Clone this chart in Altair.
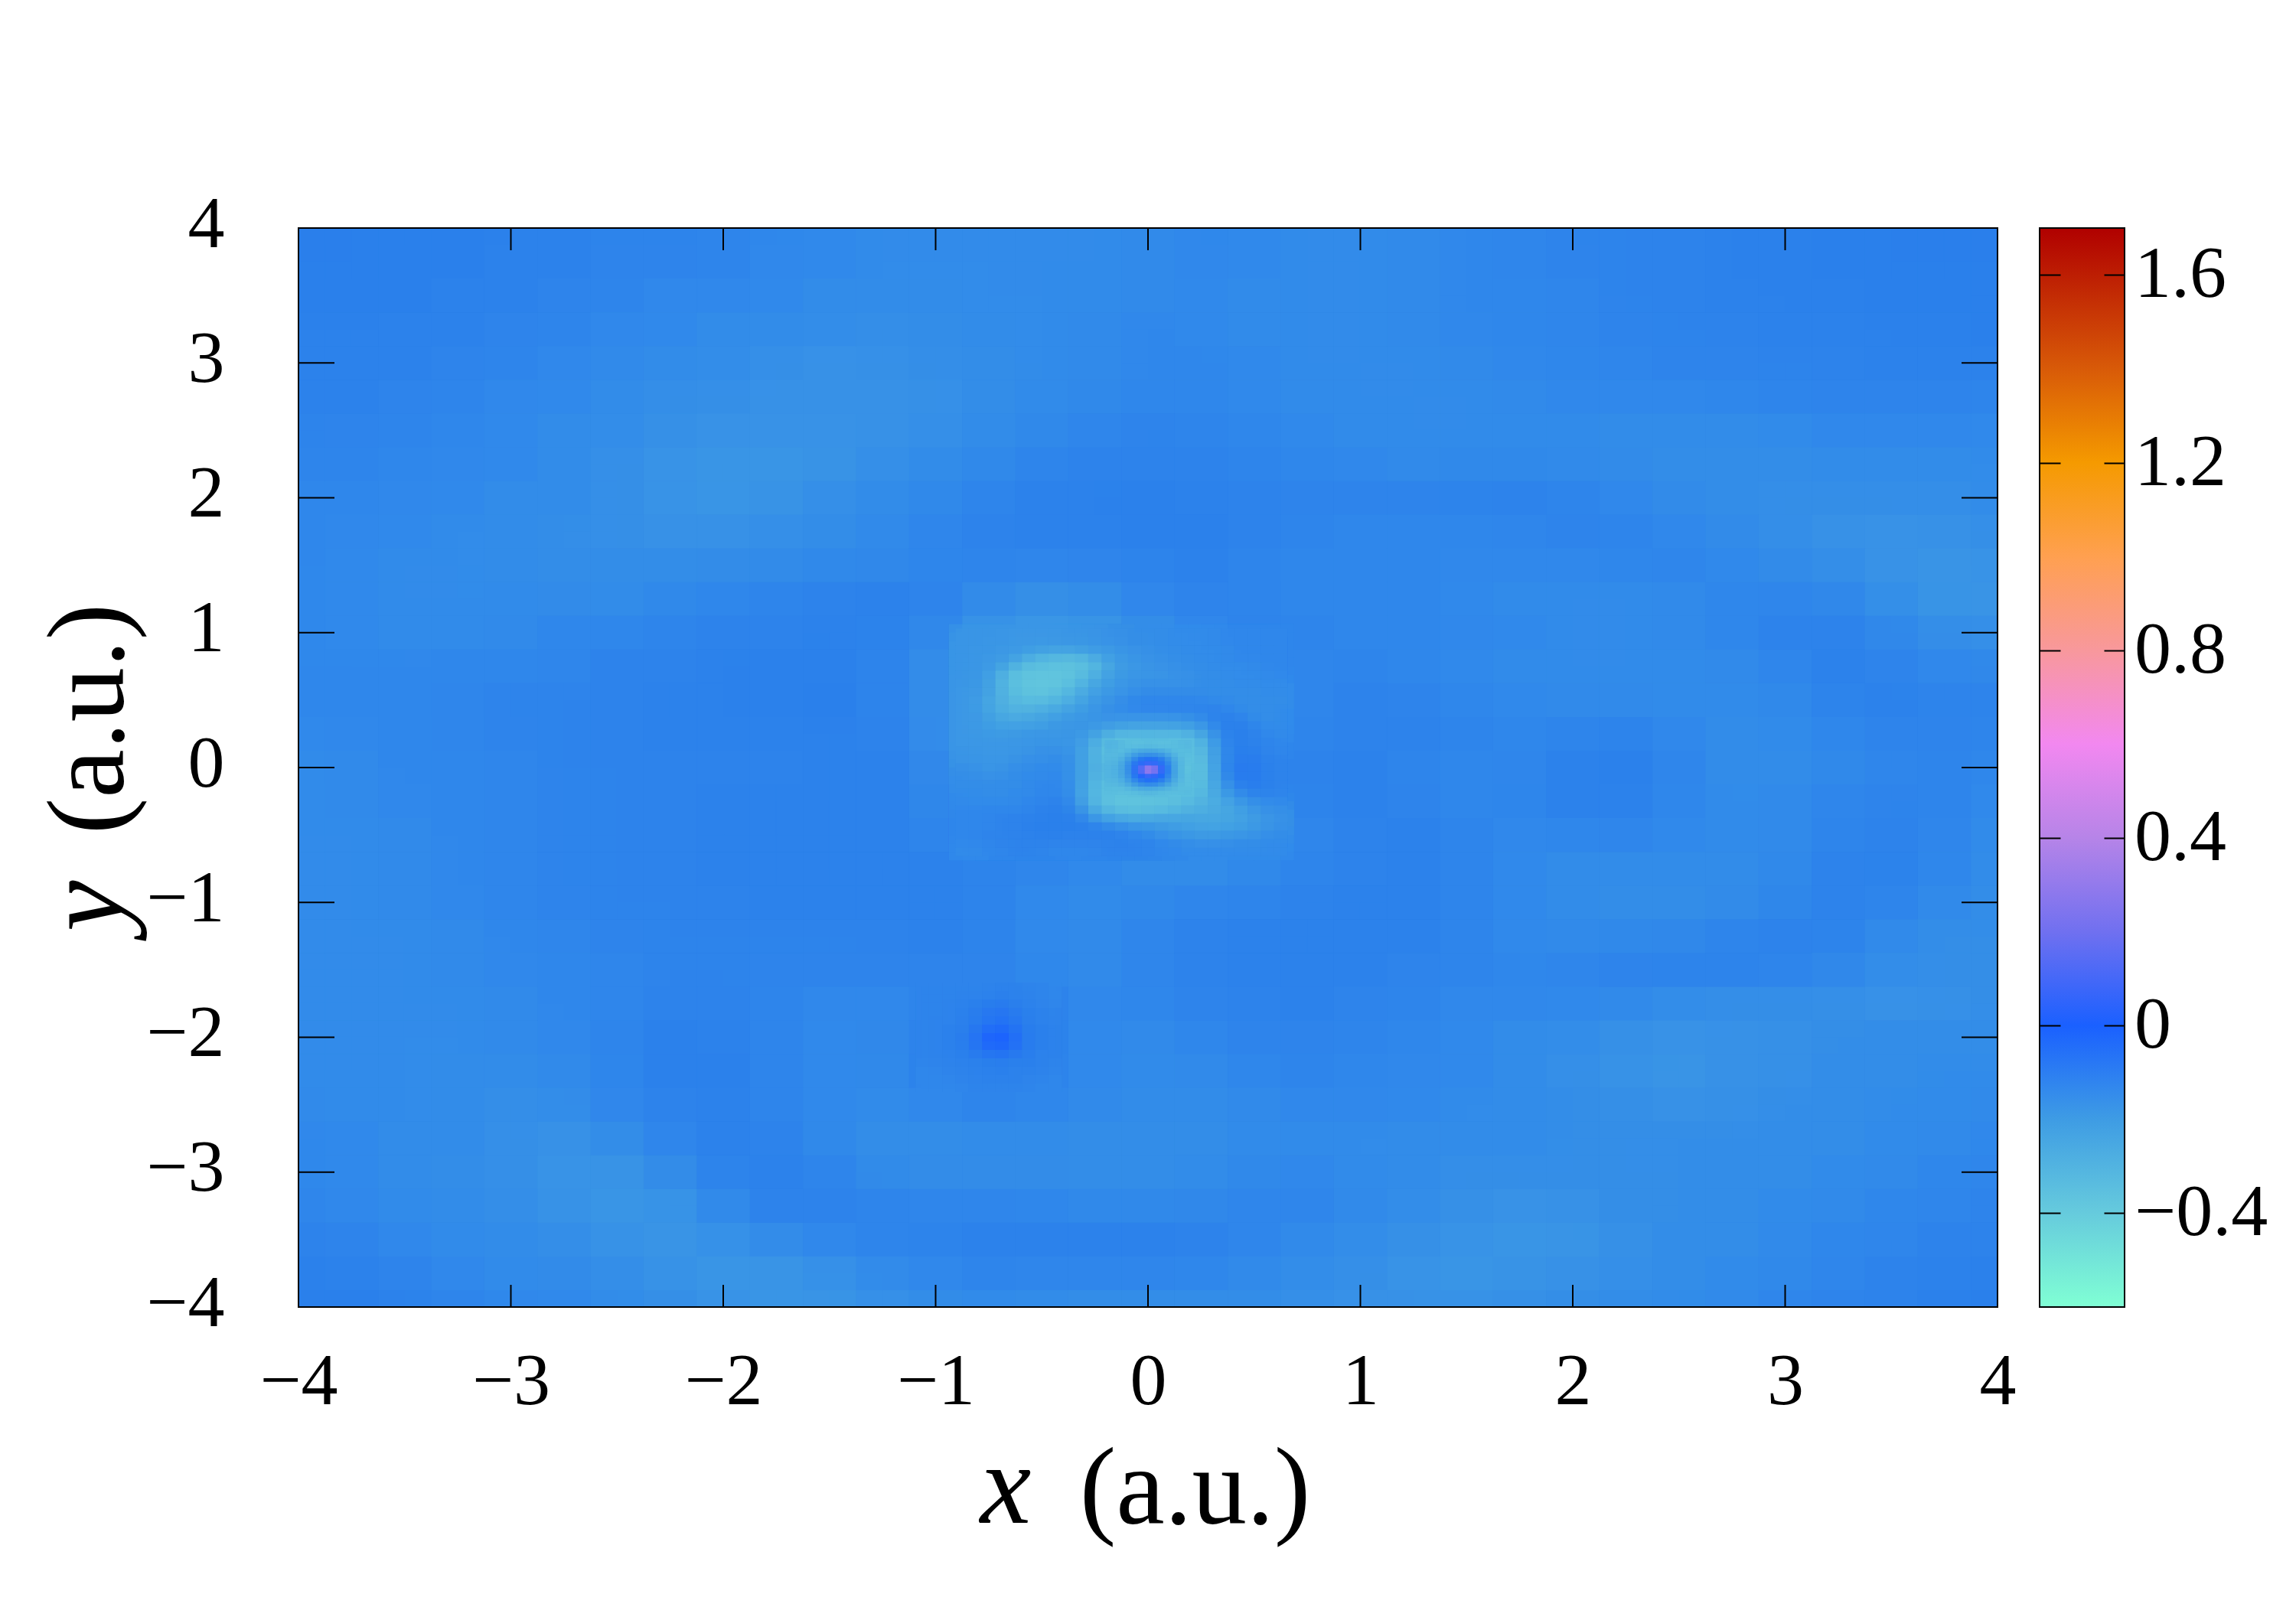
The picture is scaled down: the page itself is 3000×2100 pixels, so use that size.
import altair as alt
import pandas as pd

# Grid values in hundredths, written as depth below zero (12 means -0.12).
COARSE_X0 = -4.0
COARSE_Y0 = 4.0
COARSE_STEP = 0.25
COARSE = [
[10,10,10,11,11,12,12,12,13,13,14,14,14,14,14,14,13,13,14,14,14,13,13,12,12,12,11,11,10,10,10,10],
[10,10,11,11,12,12,13,13,13,14,14,14,14,14,14,14,13,14,14,14,14,13,13,13,12,12,11,11,11,10,10,10],
[11,11,11,12,12,13,13,14,14,14,15,15,14,14,14,13,13,14,14,14,14,13,13,13,12,12,12,11,11,11,11,10],
[11,11,12,12,13,13,14,14,15,16,16,15,15,14,14,13,13,13,14,14,14,14,13,13,13,12,12,12,12,11,11,11],
[11,12,12,13,13,14,15,15,16,16,16,16,15,14,14,13,13,13,14,14,14,14,14,13,13,13,13,12,12,12,12,12],
[12,12,13,13,14,14,15,16,16,16,16,16,15,14,13,12,12,13,13,14,14,14,14,14,14,14,14,14,13,13,13,13],
[12,13,13,13,14,15,16,17,17,17,16,15,14,13,12,12,12,12,13,13,14,14,14,14,14,15,15,15,14,14,14,14],
[13,13,13,14,14,15,16,17,17,16,15,14,13,11,11,11,11,12,12,12,12,12,11,12,13,14,15,15,15,15,15,14],
[13,13,14,14,15,15,16,16,16,15,14,13,12,11,11,11,10,11,12,13,13,13,13,12,12,13,14,15,16,16,16,15],
[13,14,14,14,15,15,15,15,15,14,14,13,12,12,12,12,11,12,13,13,13,13,13,13,13,12,13,14,15,16,17,16],
[13,14,14,14,14,15,14,13,13,12,11,11,13,15,15,13,12,12,13,13,13,13,14,14,14,14,13,13,13,15,17,17],
[13,14,14,14,13,13,13,12,12,11,11,12,15,17,17,15,13,12,12,13,13,13,13,14,14,14,13,12,11,13,15,16],
[13,13,13,13,13,12,12,11,11,11,11,13,17,18,18,17,15,13,13,12,13,13,14,14,14,14,14,13,11,12,13,14],
[13,13,13,12,12,12,11,11,11,10,11,13,17,18,18,17,15,13,13,12,12,13,13,14,14,14,14,14,12,11,12,12],
[13,13,13,12,12,12,11,11,11,11,11,13,17,18,18,17,14,13,13,12,11,12,13,13,12,13,14,14,13,12,12,12],
[14,13,13,13,12,12,12,12,12,11,11,12,16,17,17,16,14,13,12,11,12,13,13,12,10,12,14,15,14,13,12,13],
[14,13,13,13,12,12,12,11,11,11,11,12,15,15,15,15,14,13,12,11,12,13,13,11,10,12,14,14,13,12,12,13],
[14,14,13,13,12,12,12,11,11,11,11,12,14,13,13,14,15,14,13,12,11,12,13,13,12,13,14,14,13,12,12,14],
[14,14,13,13,12,12,12,11,11,11,11,11,12,12,13,14,15,14,13,12,11,12,13,14,14,14,14,14,12,11,12,14],
[14,14,13,13,12,12,12,12,11,11,11,11,11,13,14,14,13,13,12,11,11,12,13,14,15,15,15,14,12,11,13,15],
[14,14,14,13,13,12,12,12,12,12,12,11,11,13,14,13,12,11,11,11,11,12,13,14,14,14,13,12,11,13,15,15],
[14,14,14,13,13,13,12,12,12,12,12,12,12,13,14,13,12,11,11,11,12,12,13,13,12,11,11,11,12,14,15,15],
[14,14,14,14,13,13,12,12,12,13,13,13,11,11,13,13,12,12,11,12,12,13,13,13,13,14,15,15,15,16,16,15],
[14,14,14,14,13,13,11,11,12,13,14,12,11,10,13,14,13,12,12,12,13,13,14,14,15,16,16,16,15,15,15,15],
[14,14,14,14,14,13,11,10,12,13,14,11,11,11,13,14,14,13,12,13,13,13,14,15,16,17,16,16,15,15,14,14],
[14,14,14,15,15,13,12,11,12,13,14,13,12,12,13,14,14,14,13,13,13,14,14,15,15,16,16,15,15,14,14,14],
[13,14,14,15,16,15,13,11,11,13,15,15,14,14,15,15,15,14,14,14,14,14,14,15,15,15,15,15,15,14,14,13],
[13,14,15,15,16,17,15,12,11,12,14,15,15,15,15,15,15,14,13,14,14,15,15,15,15,15,15,15,14,14,13,13],
[13,14,14,15,16,17,17,14,11,11,12,13,13,13,14,14,14,13,12,13,14,15,16,16,15,15,15,14,14,13,13,12],
[12,13,14,14,15,16,17,16,14,13,12,12,11,11,11,11,11,12,13,14,15,16,17,17,16,15,15,14,13,13,12,12],
[11,12,13,14,14,15,16,17,17,16,14,13,12,12,12,12,12,13,14,15,16,17,17,16,16,15,14,14,13,12,12,11],
[10,11,12,13,13,14,15,16,17,17,16,15,14,14,15,15,15,15,15,16,16,16,16,15,15,14,14,13,12,12,11,10],
]

CORE_X0 = -0.875
CORE_Y0 = 1.0
CORE_STEP = 0.0625
CORE = [
[17,17,17,18,18,18,18,17,17,17,16,16,15,15,15,14,14,14,14,13,13,13,13,13],
[17,17,18,18,19,20,21,21,20,19,18,17,16,16,15,15,14,14,14,14,13,13,13,13],
[17,18,18,20,24,28,30,31,31,27,22,19,17,16,16,15,15,14,14,14,13,13,13,13],
[17,18,20,26,32,34,35,36,35,33,27,21,18,17,16,16,15,15,14,14,14,14,13,13],
[17,19,25,33,36,37,37,37,36,31,25,20,18,17,17,16,16,15,15,14,14,14,14,13],
[17,20,27,34,37,38,38,37,33,27,22,19,17,16,16,16,16,15,15,15,14,14,14,14],
[18,20,27,33,36,38,37,34,29,24,20,18,16,15,15,15,15,15,15,15,15,15,14,14],
[18,22,27,32,34,35,33,30,26,21,18,16,14,13,13,13,13,13,14,14,15,15,15,15],
[18,22,27,30,31,30,28,25,22,19,16,15,13,12,12,12,12,12,12,13,14,15,15,14],
[18,21,25,27,27,25,23,21,19,17,16,16,16,16,16,16,15,14,12,11,12,14,15,14],
[18,20,22,23,23,22,20,18,17,17,18,20,21,21,21,21,20,18,14,11,10,12,14,14],
[18,19,20,20,19,18,18,17,17,20,25,29,30,30,30,30,29,25,18,12,10,11,13,14],
[18,18,18,18,18,17,17,17,18,24,31,35,35,34,34,35,35,32,23,13,10,11,12,13],
[17,18,18,18,17,16,16,16,19,27,33,37,36,33,32,34,35,34,26,14,10,10,12,13],
[17,17,18,17,16,16,15,15,19,27,33,35,30,22,22,28,35,36,27,14,10,9,11,12],
[16,17,17,16,15,14,14,14,19,27,31,31,20,8,8,20,33,37,28,14,9,8,10,12],
[15,16,16,15,14,14,13,14,19,27,32,30,18,6,6,18,32,37,28,15,9,8,10,12],
[15,15,15,15,14,13,13,13,19,28,34,34,27,18,18,26,34,36,28,17,11,9,10,12],
[14,15,15,14,14,13,13,13,19,29,34,36,36,33,33,35,35,34,28,20,14,11,11,12],
[14,14,14,14,13,13,12,12,18,29,35,37,37,37,36,36,34,32,28,24,19,15,14,13],
[13,13,13,13,13,12,11,11,15,25,32,35,36,36,35,33,31,29,27,25,22,18,16,15],
[13,13,12,12,12,11,10,10,12,18,24,27,29,28,27,26,25,25,25,25,23,21,18,16],
[13,13,12,12,11,10,10,10,10,12,14,16,18,19,20,21,22,23,24,23,22,20,18,16],
[13,12,12,12,11,11,10,11,11,11,11,12,13,14,16,18,19,20,21,20,19,18,16,15],
[13,13,12,12,12,11,12,12,12,12,12,11,12,12,13,14,15,16,16,16,15,15,14,14],
[14,13,13,12,12,12,13,13,13,13,12,12,12,12,13,13,14,14,14,14,14,14,14,14],
]

NUCLEUS_A_X0 = -0.1875
NUCLEUS_A_Y0 = 0.1875
NUCLEUS_A_STEP = 0.03125
NUCLEUS_A = [
[30,32,34,35,35,34,34,35,35,34,33,32],
[31,33,33,30,28,27,27,28,30,33,34,33],
[32,33,29,24,20,18,18,20,24,29,33,34],
[32,31,25,17,10,7,7,9,15,24,31,35],
[31,28,21,11,5,2,2,5,11,21,29,35],
[30,27,20,8,-6,-25,-28,-8,6,20,29,36],
[30,27,20,8,-8,-34,-36,-10,5,19,28,36],
[30,27,21,11,0,-8,-10,0,8,20,28,35],
[31,29,23,14,7,4,4,6,12,22,30,35],
[32,31,27,21,15,12,12,14,20,27,32,35],
[33,34,32,28,25,24,24,25,28,31,34,34],
[34,35,35,34,33,32,32,33,34,34,34,33],
]

NUCLEUS_B_X0 = -1.0625
NUCLEUS_B_Y0 = -1.625
NUCLEUS_B_STEP = 0.0625
NUCLEUS_B = [
[12,12,12,12,12,11,11,12,12,13],
[12,12,12,11,10,9,10,11,12,13],
[12,12,11,10,8,7,8,10,11,12],
[12,12,11,10,8,6,7,10,11,12],
[12,11,11,9,6,4,5,9,10,11],
[12,11,10,8,3,0,3,8,10,11],
[12,11,10,8,3,1,3,8,10,11],
[12,11,11,9,7,5,7,9,11,11],
[12,12,11,11,10,9,10,10,11,12],
[13,12,12,11,11,10,11,11,11,12],
[13,13,12,12,11,11,11,12,12,13],
[13,13,13,12,12,12,12,12,13,13],
]

PATCHES = [
    (COARSE, COARSE_X0, COARSE_Y0, COARSE_STEP),
    (CORE, CORE_X0, CORE_Y0, CORE_STEP),
    (NUCLEUS_B, NUCLEUS_B_X0, NUCLEUS_B_Y0, NUCLEUS_B_STEP),
    (NUCLEUS_A, NUCLEUS_A_X0, NUCLEUS_A_Y0, NUCLEUS_A_STEP),
]

COLOR_STOPS = [-0.6, -0.4, -0.2, -0.16, -0.13, -0.1, 0.0, 0.2, 0.4, 0.6, 0.8, 1.0, 1.1, 1.2, 1.4, 1.7]
COLOR_HEX = ["#80FFD4", "#66CBDD", "#3E9CE4", "#3792E7", "#2F87EB", "#2A7FEC", "#1A60FF", "#7070F0", "#B684E8",
             "#F288F0", "#F8989C", "#FFA050", "#FFA814", "#F59A00", "#D85A08", "#B00000"]

AXIS_TICKS = [-4, -3, -2, -1, 0, 1, 2, 3, 4]
INNER_TICKS = [-3, -2, -1, 0, 1, 2, 3]
BAR_TICKS = [-0.4, 0.0, 0.4, 0.8, 1.2, 1.6]
FONT = "Liberation Serif"
W, H = 2220, 1410


def cell(x0, y0, step, r, c, depth, pad, op):
    return {"x0": x0 + c * step - pad, "x1": x0 + (c + 1) * step + pad,
            "y0": y0 - r * step + pad, "y1": y0 - (r + 1) * step - pad, "v": -depth / 100, "o": op}


rows = []
for grid, x0, y0, step in PATCHES:
    flat = [(r, c, d) for r, row in enumerate(grid) for c, d in enumerate(row)]
    rows += [cell(x0, y0, step, r, c, d, 0.004, 1.0) for r, c, d in flat]
    # translucent, slightly larger copies of the same cells soften the block edges
    if grid is COARSE or grid is CORE:
        rows += [cell(x0, y0, step, r, c, d, step, 0.4) for r, c, d in flat]
        rows += [cell(x0, y0, step, r, c, d, step, 0.4) for r, c, d in reversed(flat)]
    rows += [cell(x0, y0, step, r, c, d, step / 2, 0.5) for r, c, d in flat]
    rows += [cell(x0, y0, step, r, c, d, step / 2, 0.5) for r, c, d in reversed(flat)]
cells = pd.DataFrame(rows)

xs = alt.Scale(domain=[-4, 4], nice=False, zero=False)
ys = alt.Scale(domain=[-4, 4], nice=False, zero=False)
bs = alt.Scale(domain=[-0.6, 1.7], nice=False, zero=False)
cs = alt.Scale(domain=COLOR_STOPS, range=COLOR_HEX, interpolate="rgb", clamp=True)

x_axis = alt.Axis(
    values=AXIS_TICKS, tickSize=0, domain=False, grid=False, format="d",
    labelFont=FONT, labelFontSize=96, labelColor="black", labelPadding=126,
    labelBaseline="alphabetic", labelFlush=False, labelOverlap=False,
    title="(a.u.)", titleFont=FONT, titleFontSize=143, titleFontWeight="normal",
    titleColor="black", titleX=1171, titleY=282, titleBaseline="alphabetic", titleAlign="center")

heat = alt.Chart(cells).mark_rect(clip=True).encode(
    x=alt.X("x0:Q", scale=xs, axis=x_axis),
    x2="x1:Q",
    y=alt.Y("y0:Q", scale=ys, axis=alt.Axis(
        values=AXIS_TICKS, tickSize=0, domain=False, grid=False, format="d",
        labelFont=FONT, labelFontSize=96, labelColor="black", labelPadding=97, labelOffset=-5,
        labelFlush=False, labelOverlap=False,
        title="(a.u.)", titleFont=FONT, titleFontSize=143, titleFontWeight="normal",
        titleColor="black", titleX=-230, titleY=641, titleAngle=270,
        titleBaseline="alphabetic", titleAlign="center")),
    y2="y1:Q",
    color=alt.Color("v:Q", scale=cs, legend=alt.Legend(
        type="gradient", orient="none", legendX=2275, legendY=0, direction="vertical", title=None,
        gradientLength=H, gradientThickness=111, gradientStrokeColor="black", gradientStrokeWidth=2,
        values=BAR_TICKS, labelFont=FONT, labelFontSize=96, labelColor="black", labelOffset=13,
        labelOverlap=False, labelExpr="datum.value == 0 ? '0' : replace(format(datum.value, '.1f'), '-', '\u2212')")),
    opacity=alt.Opacity("o:Q", scale=None, legend=None),
)

xt = pd.DataFrame({"t": INNER_TICKS})
bt = pd.DataFrame({"t": BAR_TICKS})
RULE = dict(color="black", size=2)


def hticks(a, b):
    return alt.Chart(xt).mark_rule(**RULE).encode(
        y=alt.Y("t:Q", scale=ys, axis=None), x=alt.value(a), x2=alt.value(b))


def vticks(a, b):
    return alt.Chart(xt).mark_rule(**RULE).encode(
        x=alt.X("t:Q", scale=xs, axis=x_axis), y=alt.value(a), y2=alt.value(b))


def bar_ticks(orient, offset):
    # Axis ticks sit above the gradient legend (zindex), one set on each side of the bar
    return alt.Chart(bt).mark_rule(opacity=0).encode(
        y=alt.Y("t:Q", scale=bs, axis=alt.Axis(
            orient=orient, offset=offset, values=BAR_TICKS, labels=False, domain=False, grid=False,
            tickSize=27, tickWidth=2, tickColor="black", title=None, zindex=1)),
        x=alt.value(2275), x2=alt.value(2386))


frame = alt.Chart(pd.DataFrame({"f": [0]})).mark_rect(filled=False, stroke="black", strokeWidth=2).encode(
    x=alt.value(0), x2=alt.value(W), y=alt.value(0), y2=alt.value(H))

label_x = alt.Chart(pd.DataFrame({"s": ["x"]})).mark_text(
    font=FONT, fontStyle="italic", fontSize=150, align="center", baseline="alphabetic", color="black"
).encode(text="s:N", x=alt.value(924), y=alt.value(1692))
label_y = alt.Chart(pd.DataFrame({"s": ["y"]})).mark_text(
    font=FONT, fontStyle="italic", fontSize=150, align="center", baseline="alphabetic", color="black", angle=270
).encode(text="s:N", x=alt.value(-230), y=alt.value(886))

chart = alt.layer(
    heat,
    hticks(0, 47), hticks(W - 47, W),
    vticks(0, 29), vticks(H - 29, H),
    frame,
    bar_ticks("right", 55), bar_ticks("left", -2386),
    label_x, label_y,
).resolve_scale(y="independent", color="shared").properties(
    width=W, height=H, autosize="none",
    padding={"left": 382, "top": 290, "right": 376, "bottom": 380},
).configure_view(stroke=None)

chart.save("out.html", embed_options={"renderer": "svg", "actions": False})
